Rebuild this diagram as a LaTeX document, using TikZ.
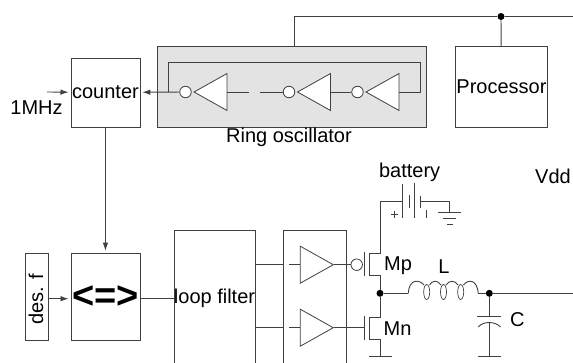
\documentclass[tikz,border=0pt]{standalone}
\usepackage{fontspec}
\setmainfont{Liberation Sans}
\usepackage{tikz}
\usetikzlibrary{
	arrows.meta,
	positioning,
	calc,
	shapes.geometric
}

\begin{document}
\begin{tikzpicture}[
		x=1pt,y=-1pt,
		font=\fontsize{20}{20}\selectfont,
		wire/.style={draw=black!75, line width=0.9pt},
		block/.style={draw=black!75, line width=0.9pt, rectangle, inner sep=0pt, anchor=north west},
		arrow/.style={wire, -{Latex[length=8pt,width=5.5pt]}, shorten >=2pt},
		junction/.style={circle, fill=black, inner sep=0pt, minimum size=7pt},
		bubble/.style={circle, draw=black!75, fill=white, line width=0.8pt, inner sep=0pt, minimum size=11.5pt},
		inverter/.style={isosceles triangle, isosceles triangle stretches, draw=black!75, fill=white, line width=0.8pt, inner sep=0pt, minimum width=37pt, minimum height=33pt, shape border rotate=#1},
		caption/.style={inner sep=0pt},
		]
		\useasboundingbox (0,0) rectangle (573,362);
		
		% Blocks
		\node[block, fill=black!11, minimum width=269.5pt, minimum height=80.5pt] (ringbox) at (156.5,46) {};
		\node[block, minimum width=69pt, minimum height=69pt] (counter) at (70.5,57.5) {counter};
		\node[block, minimum width=92pt, minimum height=80.5pt] (proc) at (455,46) {Processor};
		\node[block, minimum width=69pt, minimum height=87pt, font=\fontsize{38}{38}\selectfont\bfseries] (cmp) at (70.5,252.7) {<=>};
		\node[block, minimum width=23pt, minimum height=87pt] (desf) at (24.5,252.7) {};
		\node[caption, rotate=90] (desftext) at (36,299.5) {des. f};
		\node[block, minimum width=80.5pt, minimum height=136pt] (filter) at (173.5,230) {loop filter};
		\node[block, minimum width=63pt, minimum height=136pt] (drvbox) at (283,230) {};
		
		% Ring oscillator
		\node[inverter=180, anchor=apex] (inv1) at (193,92) {};
		\node[inverter=180, anchor=apex] (inv2) at (296.5,92) {};
		\node[inverter=180, anchor=apex] (inv3) at (365,92) {};
		\node[bubble] (b1) at (185.5,92) {};
		\node[bubble] (b2) at (289,92) {};
		\node[bubble] (b3) at (357.5,92) {};
		\coordinate (gapl) at (249,92);
		\coordinate (gapr) at (259.5,92);
		\coordinate (ringtap) at (168,92);
		\coordinate (ringcorner) at (420.5,62.5);
		\draw[wire] (ringtap) |- (ringcorner) |- (inv3.lower side);
		\draw[wire] (inv1.lower side) -- (gapl);
		\draw[wire] (gapr) -- (b2);
		\draw[wire] (inv2.lower side) -- (b3);
		\draw[arrow] (b1) -- (counter);
		\node[caption] (ringtext) at (289,137) {Ring oscillator};
		
		% Supply wire
		\node[junction] (top) at (501,16.5) {};
		\coordinate (ringtop) at (294,46);
		\coordinate (topend) at (573,16.5);
		\draw[wire] (ringtop) |- (top);
		\draw[wire] (top) -- (topend);
		\draw[wire] (top) -- (proc);
		
		% Signal path
		\coordinate (clk) at (47,92);
		\coordinate (cmpin) at (0,298.7);
		\draw[arrow] (clk) -- (counter);
		\node[caption] (mhz) at (36.5,108) {1MHz};
		\draw[arrow] (counter) -- (cmp);
		\draw[arrow] (desf.east |- cmpin) -- (cmp.west |- cmpin);
		\draw[wire] (cmp.east |- cmpin) -- (filter.west |- cmpin);
		
		% Drivers
		\node[inverter=0, anchor=apex] (drv1) at (334.3,264.7) {};
		\node[inverter=0, anchor=apex] (drv2) at (334.3,327.7) {};
		\draw[wire] (filter.east |- drv1.apex) -- (drvbox.west |- drv1.apex);
		\draw[wire] (filter.east |- drv2.apex) -- (drvbox.west |- drv2.apex);
		\draw[wire] ($(drv1.lower side)+(-11,0)$) -- (drv1.lower side);
		\draw[wire] ($(drv2.lower side)+(-11,0)$) -- (drv2.lower side);
		
		% Mp and Mn
		\node[bubble] (gp) at (356.7,264.7) {};
		\node[junction] (mid) at (380,293.3) {};
		\coordinate (gaten) at (364,327.7);
		\draw[wire] (drv1.apex) -- (gp);
		\draw[wire] (drv2.apex) -- (gaten);
		\draw[wire] (364,251.7) -- (364,276);
		\draw[wire] (364,316) -- (364,340);
		\draw[wire] (mid) |- (369,275) -- (369,253.3) -- (380,253.3) |- (402.5,201.5);
		\draw[wire] (mid) |- (369,317.3) -- (369,339.3) -- (380,339.3) -- (380,356.7);
		\draw[wire] (369,356.7) -- (392,356.7);
		\node[caption] (mp) at (398,266) {Mp};
		\node[caption] (mn) at (397.5,328.5) {Mn};
		
		% Battery
		\draw[wire] (402.5,184) -- (402.5,218);
		\draw[wire] (409,195) -- (409,208);
		\draw[wire] (414.3,183) -- (414.3,217.5);
		\draw[wire] (420.5,196) -- (420.5,208);
		\coordinate (gnd) at (449.3,212.3);
		\draw[wire] (420.5,201.5) -| (gnd);
		\draw[wire] (437.7,212.3) -- (460.7,212.3);
		\draw[wire] (443,218) -- (456,218);
		\draw[wire] (446.7,224) -- (452.7,224);
		\draw[wire] (390.5,214) -- (397.5,214);
		\draw[wire] (394,210.5) -- (394,217.5);
		\draw[wire] (426,210) -- (426,217.5);
		\node[caption] (battext) at (409.6,172.5) {battery};
		\node[caption] (vdd) at (553,176) {Vdd};
		
		% L and C
		\node[junction] (out) at (489.3,293.3) {};
		\coordinate (outend) at (573,293.3);
		\coordinate (indl) at (408.3,293.3);
		\coordinate (indr) at (478.3,293.3);
		\draw[wire] (mid) -- (indl);
		\draw[wire] (indl) .. controls (409,279) and (419,279) .. (424,285);
		\draw[wire] (429.5,285) .. controls (432,280) and (438,280) .. (441,285);
		\draw[wire] (446,285) .. controls (449,280) and (455,280) .. (458,285);
		\draw[wire] (463.5,285) .. controls (468,279) and (477,279) .. (indr);
		\draw[wire, line width=0.7pt] (426.7,292) ellipse (3pt and 7.5pt);
		\draw[wire, line width=0.7pt] (443.5,292) ellipse (3pt and 7.5pt);
		\draw[wire, line width=0.7pt] (460.7,292) ellipse (3pt and 7.5pt);
		\draw[wire] (indr) -- (out);
		\draw[wire] (out) -- (outend);
		\coordinate (capt) at (489.3,316.7);
		\coordinate (capb) at (489.3,322);
		\draw[wire] (out) -- (capt);
		\draw[wire] (477.3,316.7) -- (501,316.7);
		\draw[wire] (478.3,327) .. controls (483,321) and (495,321) .. (500.5,327);
		\draw[wire] (capb) -- (489.3,356.7);
		\draw[wire] (477.7,356.7) -- (501,356.7);
		\node[caption] (ltext) at (444,266.5) {L};
		\node[caption] (ctext) at (517.3,319.5) {C};
		
	\end{tikzpicture}
\end{document}
